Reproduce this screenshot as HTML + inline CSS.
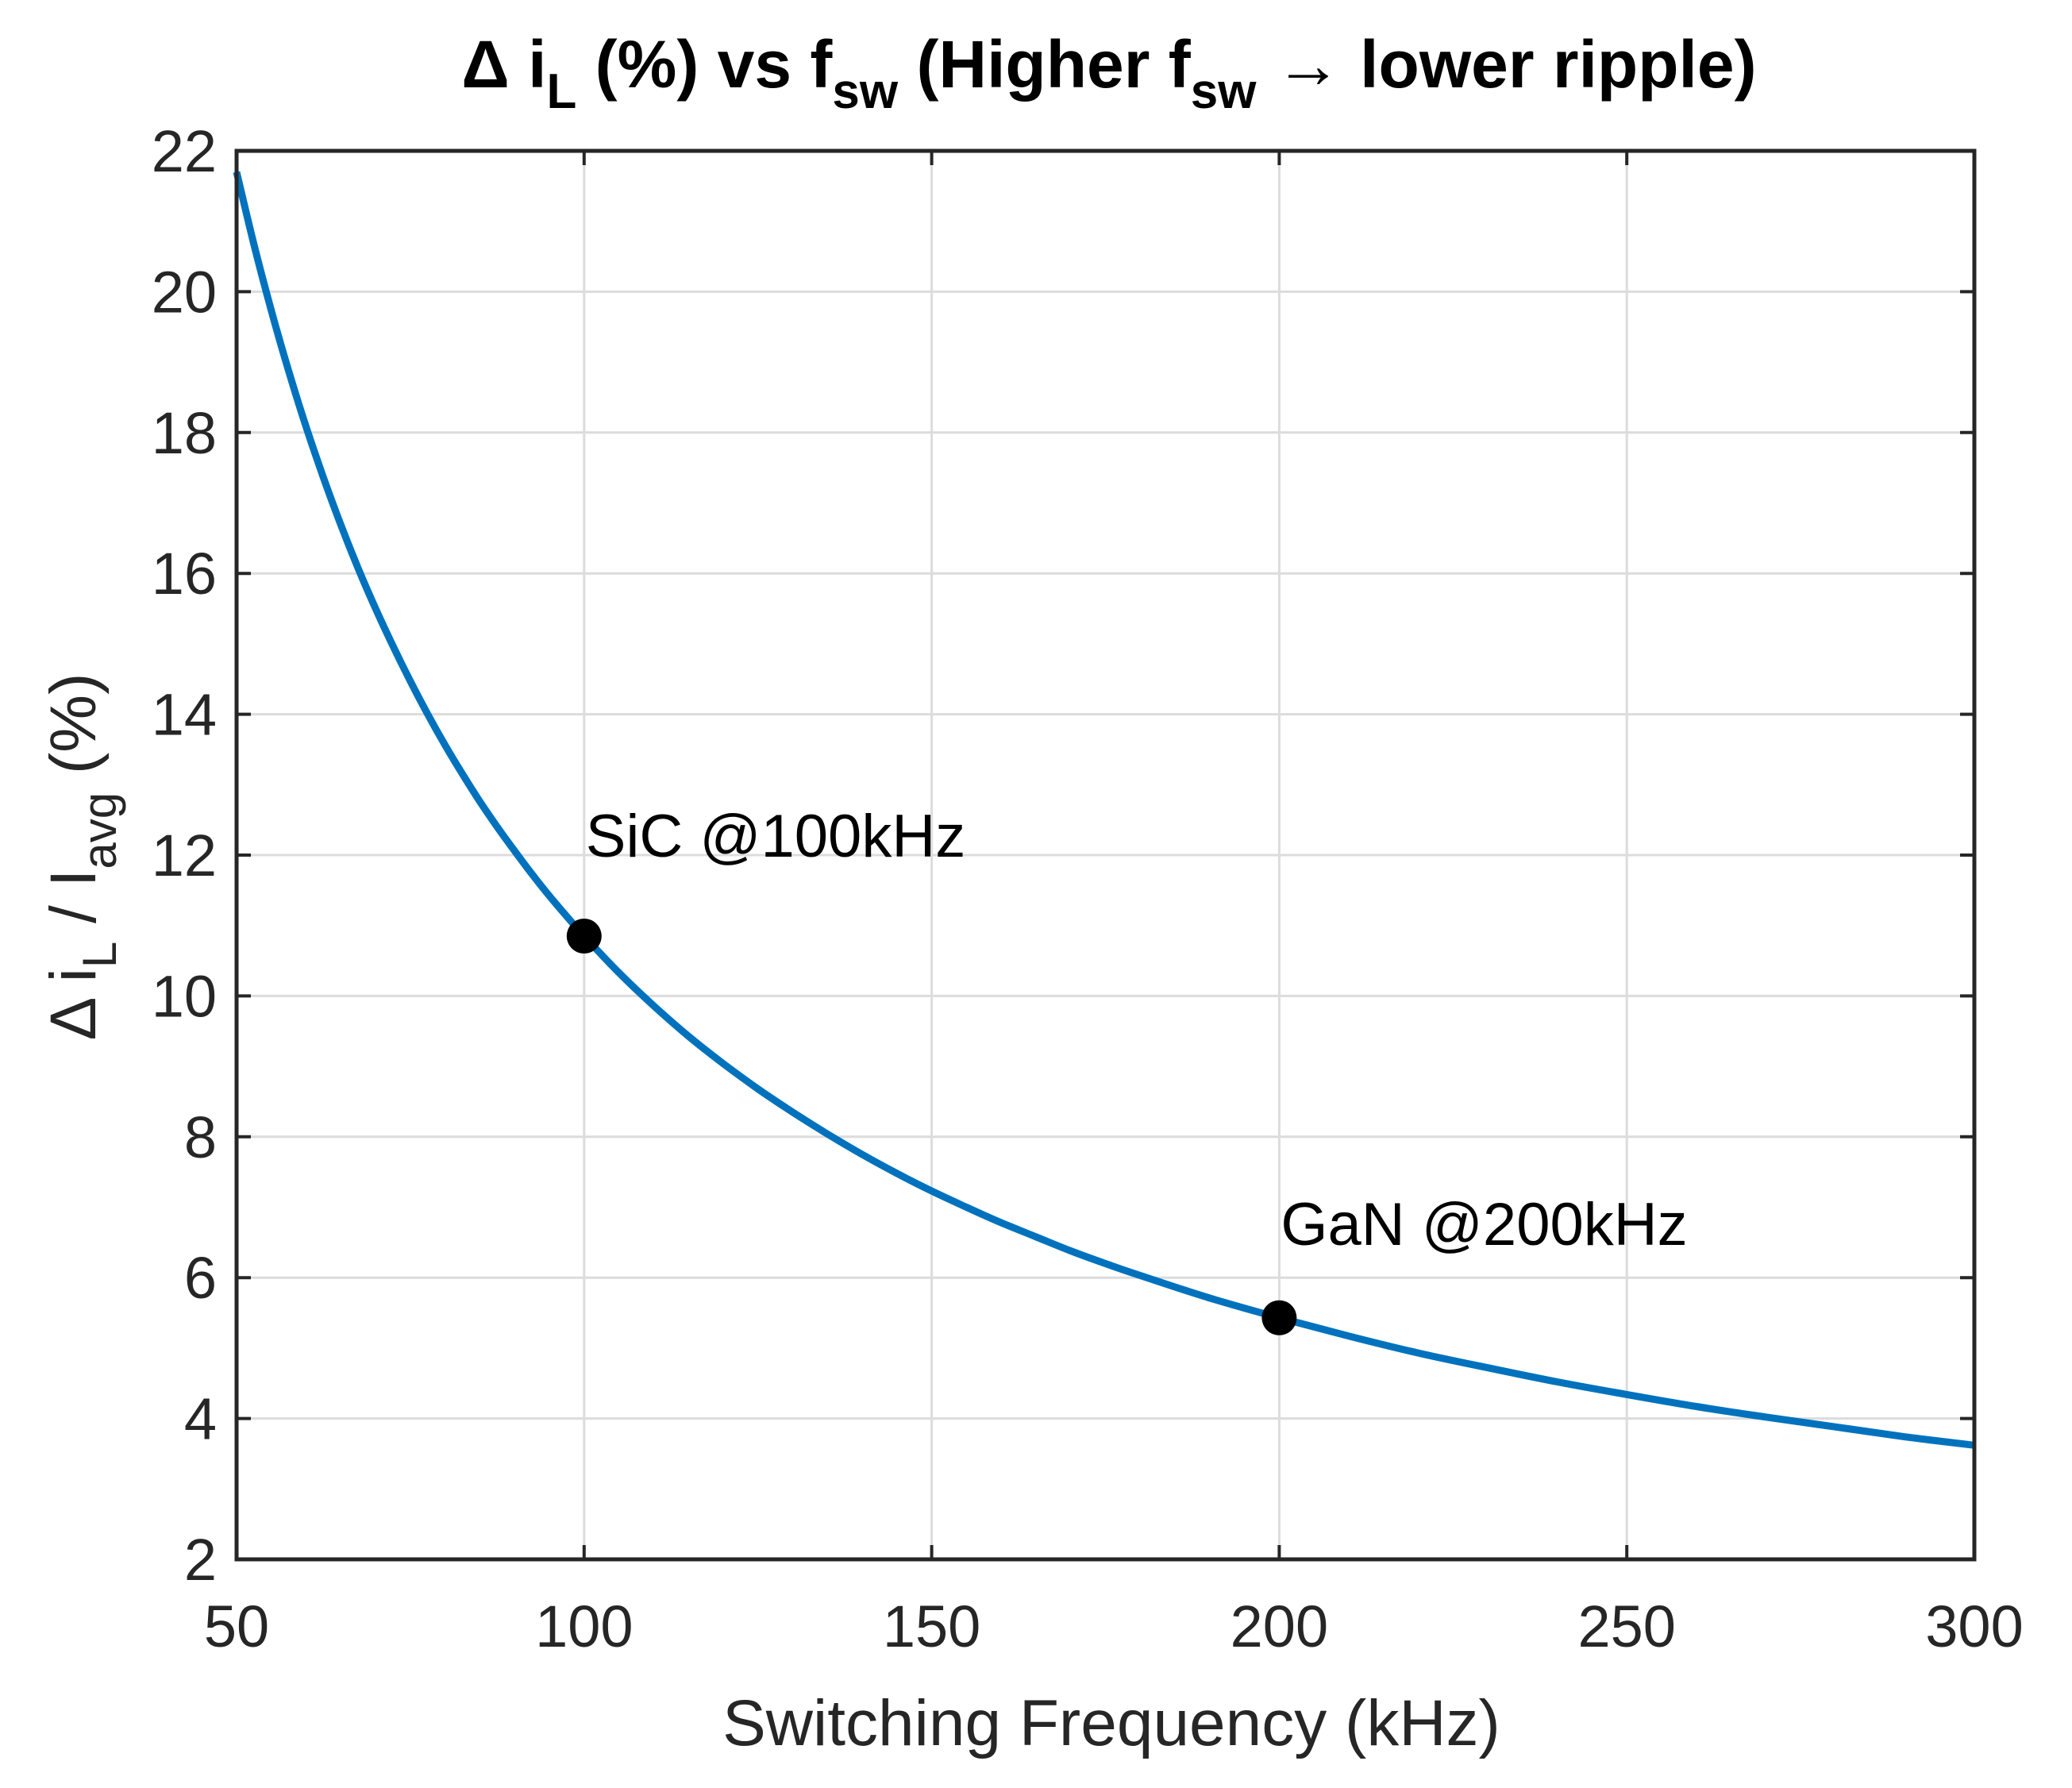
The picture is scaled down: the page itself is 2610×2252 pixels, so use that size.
<!DOCTYPE html>
<html><head><meta charset="utf-8"><style>
html,body{margin:0;padding:0;background:#fff;}
svg{display:block;font-family:"Liberation Sans",Arial,sans-serif;}
</style></head><body>
<svg id="chart" width="2610" height="2252" viewBox="0 0 2610 2252" xmlns="http://www.w3.org/2000/svg">
<rect width="2610" height="2252" fill="#fff"/>
<g id="grid"></g>
<g id="series"></g>
<rect x="298" y="190" width="2189" height="1774" fill="none" stroke="#262626" stroke-width="5"/>
<g id="ticks"></g>
<text x="1397" y="110" text-anchor="middle" font-size="84" font-weight="bold" fill="#000">Δ i<tspan dy="26" font-size="62">L</tspan><tspan dy="-26"> (%) vs f</tspan><tspan dy="26" font-size="62">sw</tspan><tspan dy="-26"> (Higher f</tspan><tspan dy="26" font-size="62">sw</tspan><tspan dy="-26"> → lower ripple)</tspan></text>
<text x="1400" y="2198" text-anchor="middle" font-size="82" fill="#262626">Switching Frequency (kHz)</text>
<text transform="translate(120,1079) rotate(-90)" text-anchor="middle" font-size="82" fill="#262626">Δ i<tspan dy="26" font-size="60">L</tspan><tspan dy="-26"> / I</tspan><tspan dy="26" font-size="60">avg</tspan><tspan dy="-26"> (%)</tspan></text>
</svg>
<script>
const freqs=[50,52.5,55,57.5,60,62.5,65,67.5,70,72.5,75,77.5,80,82.5,85,87.5,90,92.5,95,97.5,100,105,110,115,120,125,130,135,140,145,150,155,160,165,170,175,180,190,200,210,220,230,240,250,260,270,280,290,300];
const ripple=[21.7,20.67,19.73,18.87,18.08,17.36,16.69,16.07,15.5,14.97,14.47,14.0,13.56,13.15,12.76,12.4,12.06,11.73,11.42,11.13,10.85,10.33,9.86,9.43,9.04,8.68,8.35,8.04,7.75,7.48,7.23,7.0,6.78,6.58,6.38,6.2,6.03,5.71,5.43,5.17,4.93,4.72,4.52,4.34,4.17,4.02,3.88,3.74,3.62];
const markerFreqs=[100,200];
const markerVals=[10.85,5.43];
const markerLabels=["SiC @100kHz","GaN @200kHz"];
const xTicks=[50,100,150,200,250,300];
const yTicks=[2,4,6,8,10,12,14,16,18,20,22];

const L=298,R=2487,T=190,B=1964;
const X=v=>L+(v-50)/(300-50)*(R-L);
const Y=v=>B-(v-2)/(22-2)*(B-T);
const NS="http://www.w3.org/2000/svg";
function mk(tag,attrs,parent){const e=document.createElementNS(NS,tag);for(const k in attrs)e.setAttribute(k,attrs[k]);parent.appendChild(e);return e;}
const grid=document.getElementById('grid'),ticks=document.getElementById('ticks'),series=document.getElementById('series');
xTicks.forEach(t=>{
  const g=mk('line',{x1:X(t),x2:X(t),y1:T,y2:B,stroke:'#dcdcdc','stroke-width':3},grid);
  
  
  mk('line',{x1:X(t),x2:X(t),y1:B,y2:B-18,stroke:'#262626','stroke-width':4},ticks);
  mk('line',{x1:X(t),x2:X(t),y1:T,y2:T+18,stroke:'#262626','stroke-width':4},ticks);
  const l=mk('text',{x:X(t),y:B+110,'text-anchor':'middle','font-size':74,fill:'#262626'},ticks);
  
  
  l.textContent=t;
});
yTicks.forEach(t=>{
  const g=mk('line',{x1:L,x2:R,y1:Y(t),y2:Y(t),stroke:'#dcdcdc','stroke-width':3},grid);
  
  
  mk('line',{x1:L,x2:L+18,y1:Y(t),y2:Y(t),stroke:'#262626','stroke-width':4},ticks);
  mk('line',{x1:R,x2:R-18,y1:Y(t),y2:Y(t),stroke:'#262626','stroke-width':4},ticks);
  const l=mk('text',{x:L-25,y:Y(t)+26,'text-anchor':'end','font-size':74,fill:'#262626'},ticks);
  
  
  l.textContent=t;
});
const pts=freqs.map((f,i)=>[X(f),Y(ripple[i])]);
let d='M'+pts[0][0].toFixed(1)+','+pts[0][1].toFixed(1);
for(let i=0;i<pts.length-1;i++){
  const p0=pts[Math.max(0,i-1)],p1=pts[i],p2=pts[i+1],p3=pts[Math.min(pts.length-1,i+2)];
  const c1=[p1[0]+(p2[0]-p0[0])/6,p1[1]+(p2[1]-p0[1])/6];
  const c2=[p2[0]-(p3[0]-p1[0])/6,p2[1]-(p3[1]-p1[1])/6];
  d+=' C'+c1[0].toFixed(1)+','+c1[1].toFixed(1)+' '+c2[0].toFixed(1)+','+c2[1].toFixed(1)+' '+p2[0].toFixed(1)+','+p2[1].toFixed(1);
}
const p=mk('path',{d:d,fill:'none',stroke:'#0072BD','stroke-width':9,'stroke-linejoin':'round'},series);


markerFreqs.forEach((f,i)=>{
  const c=mk('circle',{cx:X(f),cy:Y(markerVals[i]),r:22,fill:'#000'},series);
  
  
  const t=mk('text',{x:X(f)+2,y:Y(markerVals[i])-(i?92:100),'font-size':76,fill:'#000'},series);
  
  
  t.textContent=markerLabels[i];
});
</script>
</body></html>
